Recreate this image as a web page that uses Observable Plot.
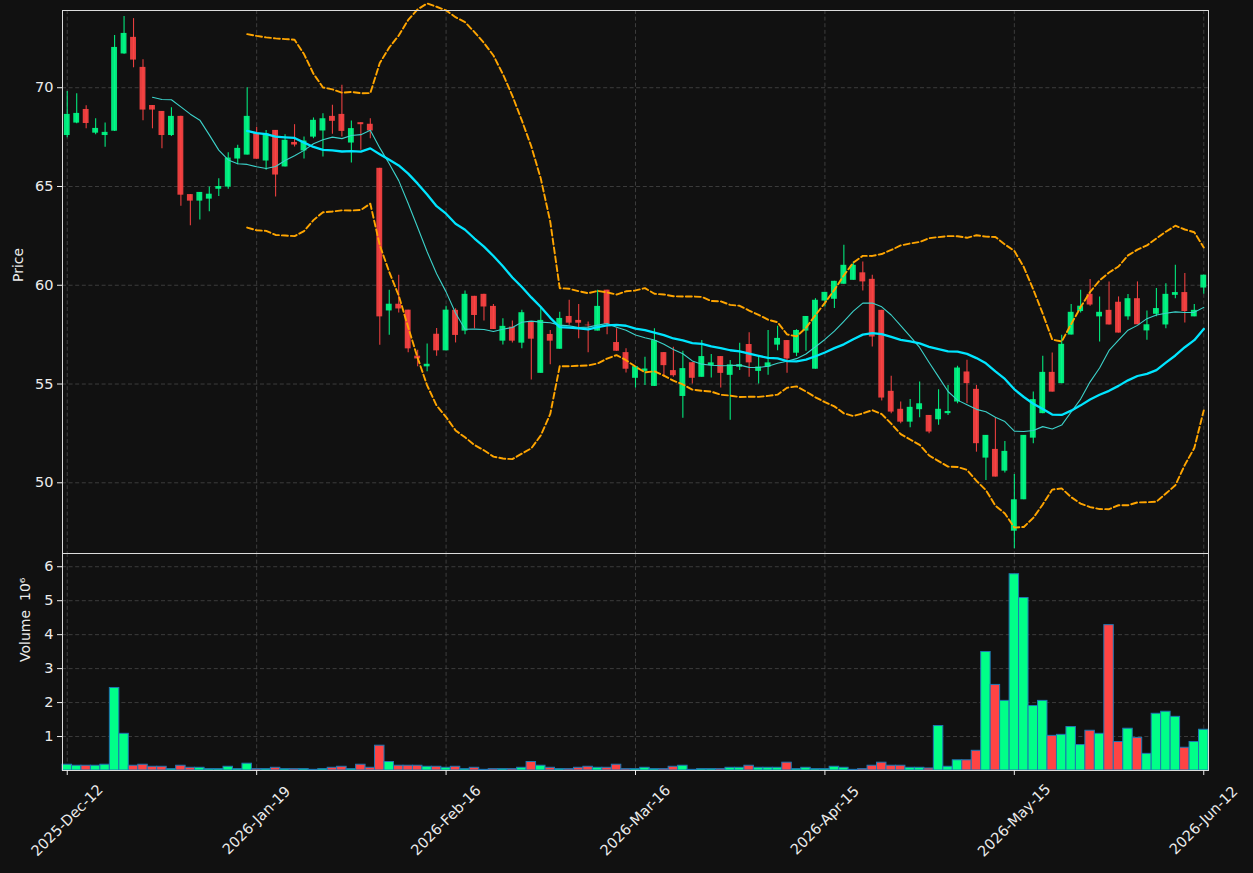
<!DOCTYPE html>
<html>
<head>
<meta charset="utf-8">
<script src="https://cdn.jsdelivr.net/npm/d3@7"></script>
<script src="https://cdn.jsdelivr.net/npm/@observablehq/plot@0.6"></script>
<style>
  html, body { margin: 0; padding: 0; background: #111111; }
  #wrap { position: relative; width: 1253px; height: 873px; background: #111111; overflow: hidden; }
  #price, #volume { position: absolute; left: 0; }
  #price { top: 0; }
  #volume { top: 553px; }
  svg { display: block; }
</style>
</head>
<body>
<div id="wrap"><div id="price"></div><div id="volume"></div></div>
<script>
// ---- data ----
const tickIndex = [0, 20, 40, 60, 80, 100, 120];
const tickLabels = ["2025-Dec-12", "2026-Jan-19", "2026-Feb-16", "2026-Mar-16", "2026-Apr-15", "2026-May-15", "2026-Jun-12"];
const priceTicks = [50, 55, 60, 65, 70];
const volumeTicks = [1, 2, 3, 4, 5, 6];

const opens = [
  67.58, 68.21, 68.90, 67.70, 67.58, 67.80, 71.71, 72.55, 71.03, 69.10,
  68.80, 67.58, 68.55, 64.59, 64.26, 64.36, 64.86, 64.97, 66.39, 66.59,
  67.70, 66.29, 67.84, 65.99, 67.23, 66.80, 67.50, 67.81, 68.55, 68.65,
  67.20, 68.23, 68.15, 65.92, 58.70, 59.04, 58.74, 56.41, 55.87, 57.52,
  56.68, 58.73, 57.68, 59.44, 59.54, 58.93, 57.17, 57.88, 57.07, 58.14,
  55.54, 57.51, 56.76, 58.42, 58.22, 57.98, 57.68, 59.75, 57.10, 56.59,
  55.29, 55.64, 54.88, 56.59, 55.68, 54.37, 56.08, 55.34, 55.93, 56.39,
  55.44, 55.85, 57.00, 55.64, 55.85, 56.97, 57.20, 56.56, 57.68, 55.75,
  59.20, 59.29, 60.05, 60.25, 60.63, 60.30, 58.73, 54.63, 53.72, 53.07,
  53.70, 53.41, 53.19, 53.50, 54.09, 55.61, 54.73, 51.25, 51.69, 50.59,
  47.55, 49.14, 52.26, 53.50, 55.59, 55.02, 57.48, 58.67, 59.54, 58.40,
  58.73, 59.14, 58.40, 59.32, 57.69, 58.53, 57.99, 59.49, 59.63, 58.40,
  59.86
];
const highs = [
  69.81, 69.70, 69.09, 68.43, 68.21, 72.64, 73.61, 73.50, 71.42, 69.10,
  68.80, 68.99, 68.55, 64.59, 64.70, 64.97, 65.39, 66.71, 67.09, 70.00,
  68.00, 67.84, 67.84, 67.62, 68.13, 67.50, 68.47, 68.68, 69.11, 70.12,
  68.31, 68.23, 68.43, 65.92, 59.75, 60.51, 58.74, 56.71, 57.02, 57.81,
  58.94, 58.81, 59.71, 59.44, 59.54, 59.03, 58.31, 58.19, 58.73, 58.14,
  58.90, 57.71, 58.63, 59.24, 59.03, 58.14, 59.75, 59.75, 57.80, 56.78,
  55.88, 56.36, 57.80, 56.59, 56.86, 56.66, 56.08, 57.20, 56.49, 56.39,
  56.19, 57.07, 57.59, 56.39, 57.71, 57.92, 57.20, 57.75, 58.42, 59.32,
  59.64, 60.20, 62.03, 61.18, 61.18, 60.51, 58.73, 55.39, 54.09, 54.22,
  55.10, 53.41, 54.71, 54.93, 55.90, 56.20, 54.93, 52.40, 53.29, 52.09,
  50.42, 52.40, 54.59, 56.40, 56.57, 57.47, 59.02, 59.75, 60.29, 59.41,
  60.17, 59.41, 59.53, 60.17, 58.70, 59.83, 60.08, 61.01, 60.59, 59.02,
  60.51
];
const lows = [
  67.47, 68.18, 67.92, 67.62, 66.99, 67.78, 71.70, 71.01, 68.33, 67.92,
  66.91, 67.53, 64.00, 63.01, 63.31, 63.72, 64.49, 64.86, 66.10, 66.59,
  66.38, 65.82, 64.47, 65.99, 67.00, 66.39, 67.42, 66.49, 67.64, 67.50,
  66.19, 66.83, 67.42, 56.96, 57.47, 58.60, 56.58, 55.87, 55.62, 56.41,
  56.68, 57.08, 57.49, 57.80, 58.19, 57.76, 56.98, 57.08, 56.78, 55.20,
  55.54, 55.97, 56.76, 57.97, 57.29, 56.58, 57.68, 57.49, 56.66, 55.56,
  54.80, 54.92, 54.88, 55.34, 55.34, 53.27, 55.00, 55.34, 55.31, 54.80,
  53.17, 55.68, 55.34, 55.00, 55.44, 56.69, 55.54, 56.39, 56.66, 55.75,
  58.90, 58.82, 60.05, 60.25, 59.71, 56.88, 54.14, 53.50, 52.99, 52.79,
  53.29, 52.48, 52.91, 53.41, 54.00, 54.00, 51.55, 50.12, 50.29, 50.49,
  46.66, 49.14, 51.98, 53.50, 54.59, 55.02, 57.48, 58.60, 58.94, 57.13,
  57.99, 57.58, 58.23, 58.00, 57.21, 58.40, 57.80, 59.32, 58.09, 58.40,
  59.54
];
const closes = [
  68.65, 68.70, 68.19, 67.94, 67.74, 72.04, 72.75, 71.40, 68.87, 68.87,
  67.58, 68.55, 64.56, 64.26, 64.70, 64.61, 65.00, 66.44, 66.93, 68.55,
  66.38, 67.67, 65.58, 67.34, 67.10, 67.30, 68.35, 68.43, 68.30, 67.79,
  67.93, 68.13, 67.81, 58.40, 59.04, 58.80, 56.78, 56.27, 56.00, 56.68,
  58.74, 57.46, 59.54, 58.47, 58.90, 57.76, 57.92, 57.17, 58.61, 57.27,
  58.22, 57.17, 58.32, 58.08, 58.08, 57.95, 58.93, 58.02, 56.66, 55.75,
  55.88, 55.76, 57.20, 55.93, 55.42, 55.78, 55.29, 56.39, 56.07, 55.54,
  55.97, 55.98, 56.07, 55.86, 56.07, 57.31, 56.27, 57.71, 58.42, 59.24,
  59.64, 60.20, 61.01, 61.01, 60.17, 57.38, 54.29, 53.58, 53.07, 53.82,
  54.00, 52.57, 53.72, 53.61, 55.81, 55.02, 51.98, 52.40, 50.29, 51.59,
  49.14, 52.40, 54.21, 55.59, 54.59, 57.01, 58.63, 58.94, 59.00, 58.63,
  57.99, 57.58, 59.32, 58.00, 58.00, 58.82, 59.54, 59.63, 58.67, 58.73,
  60.51
];
// volume in millions
const volumes = [
  0.17, 0.14, 0.14, 0.14, 0.17, 2.43, 1.08, 0.14, 0.17, 0.11,
  0.11, 0.04, 0.14, 0.08, 0.08, 0.04, 0.04, 0.11, 0.04, 0.20,
  0.04, 0.04, 0.08, 0.04, 0.04, 0.04, 0.02, 0.04, 0.08, 0.11,
  0.04, 0.17, 0.08, 0.73, 0.25, 0.14, 0.14, 0.14, 0.11, 0.11,
  0.08, 0.11, 0.04, 0.08, 0.02, 0.04, 0.04, 0.04, 0.08, 0.25,
  0.14, 0.08, 0.04, 0.04, 0.08, 0.11, 0.08, 0.08, 0.17, 0.04,
  0.04, 0.08, 0.04, 0.04, 0.11, 0.14, 0.02, 0.04, 0.04, 0.04,
  0.08, 0.08, 0.14, 0.08, 0.08, 0.08, 0.23, 0.04, 0.08, 0.04,
  0.04, 0.11, 0.08, 0.02, 0.04, 0.14, 0.23, 0.14, 0.14, 0.08,
  0.08, 0.06, 1.31, 0.11, 0.30, 0.30, 0.58, 3.49, 2.52, 2.05,
  5.78, 5.08, 1.90, 2.05, 1.02, 1.05, 1.28, 0.75, 1.17, 1.08,
  4.28, 0.84, 1.23, 0.96, 0.49, 1.67, 1.73, 1.58, 0.67, 0.84,
  1.20
];

// ---- table for the library ----
const rows = opens.map((o, i) => ({
  i, open: o, high: highs[i], low: lows[i], close: closes[i], volume: volumes[i],
  up: closes[i] >= o
}));

const UP = "#00ff88", DOWN = "#ff4444";
const xDomain = [-0.5, 120.5];
const FONT = "'DejaVu Sans', sans-serif";
const TXT = "#ececec";
const gridStyle = { stroke: "#474747", strokeOpacity: 1, strokeWidth: 0.8, strokeDasharray: "4,2.6" };
const bandStyle = { stroke: "#ffa500", strokeWidth: 1.9, strokeDasharray: "6,3" };

const upper = v => d3.mean(v) + 2 * d3.deviation(v);
const lower = v => d3.mean(v) - 2 * d3.deviation(v);

const pricePlot = Plot.plot({
  width: 1253, height: 553,
  marginTop: 10, marginBottom: 0, marginLeft: 62, marginRight: 45,
  style: { background: "transparent", color: TXT, fontFamily: FONT, fontSize: "14px" },
  x: { domain: xDomain, axis: null },
  y: { domain: [46.42, 73.91], axis: null },
  color: { type: "identity" },
  marks: [
    Plot.gridX(tickIndex, gridStyle),
    Plot.gridY(priceTicks, gridStyle),
    Plot.ruleX(rows, { x: "i", y1: "low", y2: "high", stroke: d => d.up ? UP : DOWN, strokeOpacity: 0.9, strokeWidth: 1.1 }),
    Plot.rect(rows, {
      x1: d => d.i - 0.31, x2: d => d.i + 0.31,
      y1: d => Math.min(d.open, d.close), y2: d => Math.max(d.open, d.close),
      fill: d => d.up ? UP : DOWN, fillOpacity: 0.9
    }),
    Plot.lineY(rows, Plot.windowY({ k: 20, anchor: "end", strict: true, reduce: upper },
      { x: "i", y: "close", ...bandStyle })),
    Plot.lineY(rows, Plot.windowY({ k: 20, anchor: "end", strict: true, reduce: lower },
      { x: "i", y: "close", ...bandStyle })),
    Plot.lineY(rows, Plot.windowY({ k: 10, anchor: "end", strict: true, reduce: "mean" },
      { x: "i", y: "close", stroke: "#3cd2ca", strokeWidth: 1.1 })),
    Plot.lineY(rows, Plot.windowY({ k: 20, anchor: "end", strict: true, reduce: "mean" },
      { x: "i", y: "close", stroke: "#00e5ff", strokeWidth: 2.3 })),
    Plot.frame({ stroke: "#dcdcdc", strokeWidth: 1 }),
    Plot.axisY(priceTicks, { tickSize: 5, tickPadding: 4, fontSize: 14.5, label: null, stroke: TXT, fill: TXT }),
    Plot.text(["Price"], { frameAnchor: "left", dx: -44, rotate: -90, fontSize: 14, fill: TXT })
  ]
});
document.getElementById("price").append(pricePlot);

const volumePlot = Plot.plot({
  width: 1253, height: 320,
  marginTop: 0, marginBottom: 103, marginLeft: 62, marginRight: 45,
  style: { background: "transparent", color: TXT, fontFamily: FONT, fontSize: "14px" },
  x: { domain: xDomain, axis: null },
  y: { domain: [0, 6.39], axis: null },
  color: { type: "identity" },
  marks: [
    Plot.gridX(tickIndex, gridStyle),
    Plot.gridY(volumeTicks, gridStyle),
    Plot.rect(rows, {
      x1: d => d.i - 0.5, x2: d => d.i + 0.5, y1: 0, y2: "volume",
      fill: d => d.up ? UP : DOWN, stroke: "#1f77b4", strokeWidth: 1
    }),
    Plot.frame({ stroke: "#dcdcdc", strokeWidth: 1 }),
    Plot.axisY(volumeTicks, { tickSize: 5, tickPadding: 4, fontSize: 14.5, label: null, stroke: TXT, fill: TXT }),
    Plot.axisX(tickIndex, { tickSize: 5, tickFormat: () => "", label: null, stroke: TXT }),
    Plot.text(tickIndex, {
      x: d => d, text: d => tickLabels[tickIndex.indexOf(d)],
      frameAnchor: "bottom", dy: 50, rotate: -45, textAnchor: "middle", lineAnchor: "middle",
      fontSize: 14.5, fill: TXT
    }),
    Plot.text(["Volume\u00a0\u00a010\u2076"], { frameAnchor: "left", dx: -37, rotate: -90, fontSize: 14, fill: TXT })
  ]
});
document.getElementById("volume").append(volumePlot);
</script>
</body>
</html>
